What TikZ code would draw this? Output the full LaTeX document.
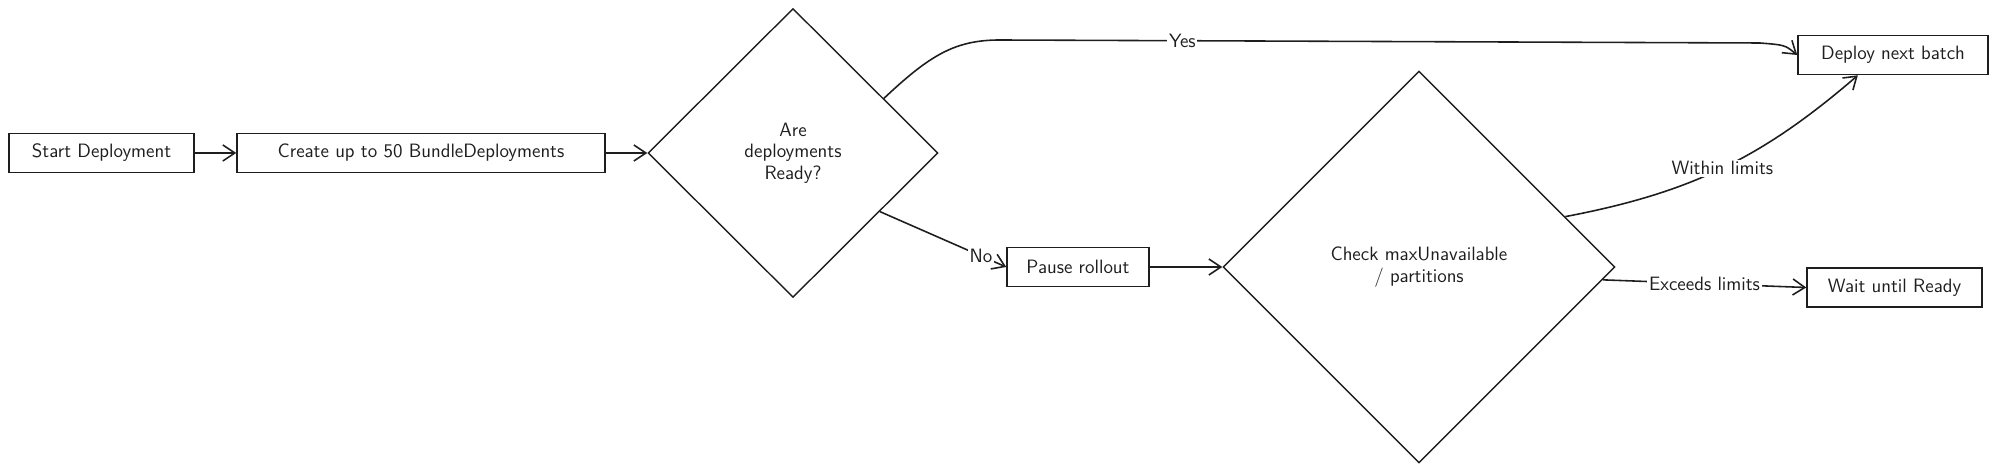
\documentclass[tikz,border=0pt]{standalone}
\usepackage{tikz}
\usetikzlibrary{arrows.meta,shapes.geometric}
\definecolor{ink}{HTML}{1E1E1E}
\tikzset{
    box/.style={draw=ink, line width=0.9pt, rectangle, minimum height=0.78cm, inner sep=0pt, text=ink},
    decision/.style={draw=ink, line width=0.8pt, diamond, align=center, inner sep=0pt, text=ink},
    flow/.style={-{Straight Barb[length=2.4mm, width=3.2mm]}, line width=0.9pt, ink},
    lbl/.style={fill=white, inner sep=1pt, text=ink}
}

\begin{document}
\begin{tikzpicture}[x=0.02cm, y=-0.02cm, font=\sffamily\fontsize{11}{12.3}\selectfont]
\useasboundingbox (0,0) rectangle (1999,472);
\node[box, minimum width=3.7cm] (start) at (101.5,153) {Start Deployment};
\node[box, minimum width=7.36cm] (create) at (421,153) {Create up to 50 BundleDeployments};
\node[decision, minimum width=5.8cm, minimum height=5.78cm] (ready) at (793,153) {Are\\deployments\\Ready?};
\node[box, minimum width=3.8cm] (deploy) at (1893,55) {Deploy next batch};
\node[box, minimum width=2.84cm] (pause) at (1078,267) {Pause rollout};
\node[decision, minimum width=7.84cm, minimum height=7.84cm] (check) at (1419,267) {Check maxUnavailable\\/ partitions};
\node[box, minimum width=3.5cm] (wait) at (1894.5,287.5) {Wait until Ready};

\draw[flow] (start) -- (create);
\draw[flow] (create) -- (ready);
\draw[flow] (ready.31) .. controls (930,55) and (955,40) .. (1000,40)
    -- node[lbl, pos=0.24] {Yes} (1760,43) .. controls (1785,45) .. (deploy.west);
\draw[flow] (ready.-34) -- node[lbl, pos=0.8] {No} (pause.west);
\draw[flow] (pause) -- (check);
\draw[flow] (check.19) to[bend right=15] node[lbl] {Within limits} (deploy.210);
\draw[flow] (check.-4) -- node[lbl] {Exceeds limits} (wait.west);
\end{tikzpicture}
\end{document}
